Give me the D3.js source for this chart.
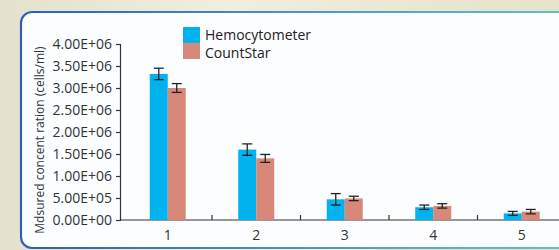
<!DOCTYPE html>
<html>
<head>
<meta charset="utf-8">
<script src="https://cdn.jsdelivr.net/npm/d3@7"></script>
<style>
body { margin: 0; }
svg { display: block; }
</style>
</head>
<body>
<div id="chart"></div>
<script>
const categories = ["1", "2", "3", "4", "5"];
const series = ["Hemocytometer", "CountStar"];
const hemoValues = [3.32e6, 1.60e6, 0.47e6, 0.29e6, 0.15e6];
const hemoErrors = [0.13e6, 0.13e6, 0.13e6, 0.05e6, 0.045e6];
const countValues = [3.00e6, 1.40e6, 0.49e6, 0.32e6, 0.19e6];
const countErrors = [0.10e6, 0.09e6, 0.05e6, 0.05e6, 0.05e6];
const yTicks = [0, 0.5e6, 1e6, 1.5e6, 2e6, 2.5e6, 3e6, 3.5e6, 4e6];
const colors = ["#00b2ee", "#d88878"];

const width = 559, height = 250;

const svg = d3.select("#chart")
    .append("svg")
    .attr("width", width)
    .attr("height", height);

const defs = svg.append("defs");

const bg = defs.append("linearGradient")
    .attr("id", "bg")
    .attr("x1", "0").attr("y1", "0").attr("x2", "1").attr("y2", "0");
bg.append("stop").attr("offset", "0").attr("stop-color", "#e4e1cc");
bg.append("stop").attr("offset", "0.4").attr("stop-color", "#f0eedf");
bg.append("stop").attr("offset", "1").attr("stop-color", "#e6e3c9");

const border = defs.append("linearGradient")
    .attr("id", "border")
    .attr("x1", "0").attr("y1", "0").attr("x2", "1").attr("y2", "0");
border.append("stop").attr("offset", "0").attr("stop-color", "#2d5fb6");
border.append("stop").attr("offset", "0.5").attr("stop-color", "#4a9cc8");
border.append("stop").attr("offset", "1").attr("stop-color", "#62cbcc");

svg.append("rect")
    .attr("width", width)
    .attr("height", height)
    .attr("fill", "url(#bg)");

// white panel
svg.append("rect")
    .attr("x", 21)
    .attr("y", 12)
    .attr("width", 600)
    .attr("height", 236)
    .attr("rx", 11)
    .attr("fill", "#fcfdff")
    .attr("stroke", "url(#border)")
    .attr("stroke-width", 2.2);

const margin = {left: 120, top: 44, bottom: 220};

const y = d3.scaleLinear()
    .domain([0, 4e6])
    .range([margin.bottom, margin.top]);

const x = d3.scaleBand()
    .domain(categories)
    .range([123.5, 566])
    .paddingInner(0)
    .paddingOuter(0);

const inner = d3.scaleBand()
    .domain(series)
    .range([x.bandwidth() / 2 - 18, x.bandwidth() / 2 + 18]);

const fmt = d => d.toExponential(2).toUpperCase().replace(/E([+-])(\d)$/, "E$10$2");

// y axis
const yAxis = svg.append("g")
    .attr("transform", "translate(" + margin.left + ",0)")
    .call(d3.axisLeft(y).tickValues(yTicks).tickSize(4).tickPadding(4).tickFormat(fmt));
yAxis.select(".domain").attr("stroke", "#333").attr("stroke-width", 1.2);
yAxis.selectAll(".tick line").attr("stroke", "#333").attr("stroke-width", 1.2);
yAxis.selectAll("text")
    .attr("fill", "#333")
    .style("font-family", "Open Sans")
    .style("font-size", "14px");

// x axis
const xAxis = svg.append("g")
    .attr("transform", "translate(0," + margin.bottom + ")");
xAxis.append("line")
    .attr("x1", margin.left)
    .attr("x2", width)
    .attr("stroke", "#333")
    .attr("stroke-width", 1.2);
xAxis.selectAll(".sep")
    .data(categories.slice(1))
    .enter()
    .append("line")
    .attr("x1", d => x(d))
    .attr("x2", d => x(d))
    .attr("y1", 0)
    .attr("y2", -5)
    .attr("stroke", "#333")
    .attr("stroke-width", 1.2);
xAxis.selectAll(".lab")
    .data(categories)
    .enter()
    .append("text")
    .attr("x", d => x(d) + x.bandwidth() / 2)
    .attr("y", 20)
    .attr("text-anchor", "middle")
    .attr("fill", "#333")
    .style("font-family", "Open Sans")
    .style("font-size", "14px")
    .text(d => d);

// bars
const rows = categories.map((c, i) => [
    {cat: c, s: series[0], v: hemoValues[i], e: hemoErrors[i], col: colors[0]},
    {cat: c, s: series[1], v: countValues[i], e: countErrors[i], col: colors[1]}
]).flat();

svg.append("g")
    .selectAll("rect")
    .data(rows)
    .enter()
    .append("rect")
    .attr("x", d => x(d.cat) + inner(d.s))
    .attr("y", d => y(d.v))
    .attr("width", inner.bandwidth())
    .attr("height", d => y(0) - y(d.v))
    .attr("fill", d => d.col);

// error bars
const err = svg.append("g")
    .attr("stroke", "#222")
    .attr("stroke-width", 1.3);
rows.forEach(d => {
    const cx = x(d.cat) + inner(d.s) + inner.bandwidth() / 2;
    err.append("line")
        .attr("x1", cx).attr("x2", cx)
        .attr("y1", y(d.v + d.e)).attr("y2", y(d.v - d.e));
    err.append("line")
        .attr("x1", cx - 5).attr("x2", cx + 5)
        .attr("y1", y(d.v + d.e)).attr("y2", y(d.v + d.e));
    err.append("line")
        .attr("x1", cx - 5).attr("x2", cx + 5)
        .attr("y1", y(d.v - d.e)).attr("y2", y(d.v - d.e));
});

// y title
svg.append("text")
    .attr("transform", "translate(44,140) rotate(-90)")
    .attr("text-anchor", "middle")
    .attr("fill", "#333")
    .style("font-family", "Open Sans")
    .style("font-size", "12px")
    .text("Mdsured concent ration (cells/ml)");

// legend
const legend = svg.append("g");
legend.selectAll("rect")
    .data(series)
    .enter()
    .append("rect")
    .attr("x", 183)
    .attr("y", (d, i) => 27 + i * 16)
    .attr("width", 17)
    .attr("height", 16)
    .attr("fill", (d, i) => colors[i]);
legend.selectAll("text")
    .data(series)
    .enter()
    .append("text")
    .attr("x", 205)
    .attr("y", (d, i) => 40 + i * 18)
    .attr("fill", "#222")
    .style("font-family", "Open Sans")
    .style("font-size", "14px")
    .text(d => d);
</script>
</body>
</html>
